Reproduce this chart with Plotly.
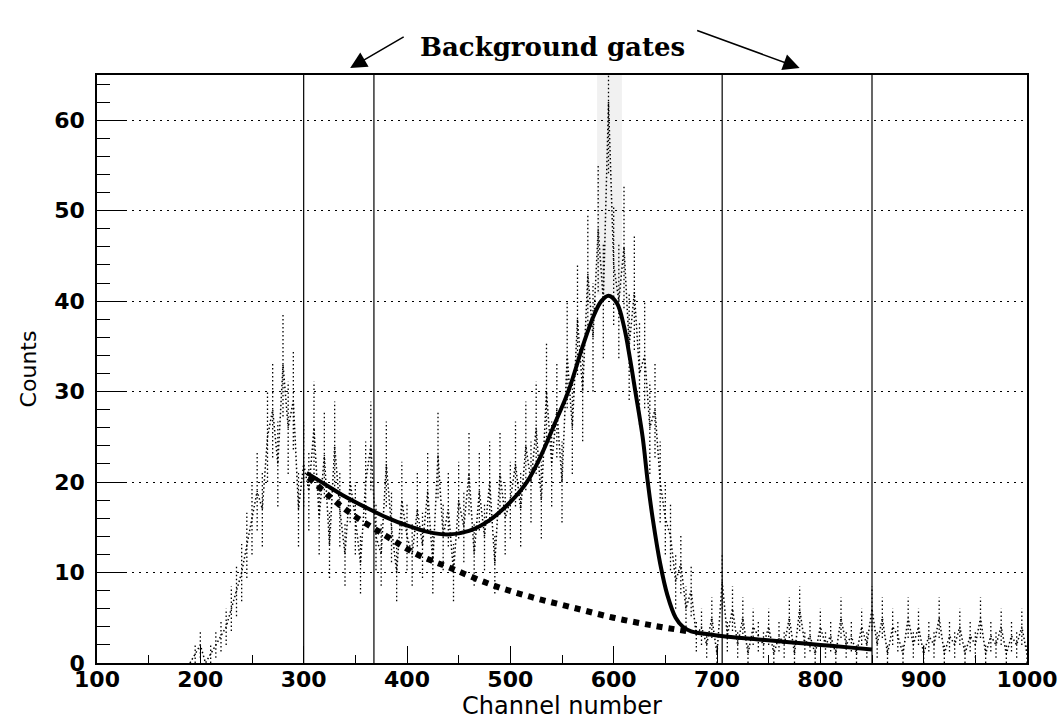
import plotly.graph_objects as go

# ---- data ----
hist_x = list(range(190, 1001, 5))
hist_y = [0, 1, 2, 0, 1, 2, 3, 4, 6, 8,
          10, 13, 16, 19, 17, 25, 28, 22, 33, 26,
          29, 17, 22, 19, 26, 16, 23, 13, 24, 17,
          12, 20, 16, 11, 20, 24, 14, 12, 22, 15,
          10, 18, 14, 12, 17, 13, 19, 11, 23, 14,
          17, 10, 18, 15, 21, 12, 19, 14, 20, 11,
          21, 16, 18, 22, 17, 24, 20, 26, 18, 30,
          22, 28, 20, 34, 26, 38, 30, 43, 36, 48,
          40, 62, 44, 40, 46, 35, 41, 32, 34, 26,
          28, 20, 16, 14, 9, 11, 6, 8, 3, 4,
          2, 5, 1, 9, 3, 6, 2, 5, 1, 4,
          3, 2, 4, 1, 3, 2, 5, 1, 6, 2,
          3, 1, 4, 2, 3, 1, 5, 2, 3, 1,
          4, 2, 6, 2, 5, 1, 4, 3, 1, 5,
          2, 4, 1, 3, 2, 5, 1, 3, 2, 4,
          1, 3, 2, 5, 1, 3, 2, 4, 1, 3,
          2, 4, 1]

fit_x = [303, 320, 340, 360, 380, 400, 420, 440, 460, 480, 500, 516, 530, 542,
         556, 570, 580, 588, 595, 603, 610, 616, 621, 628, 633, 638, 645, 652, 660, 667,
         675, 690, 710, 740, 770, 800, 830, 850]
fit_y = [21.0, 19.8, 18.4, 17.2, 16.1, 15.2, 14.5, 14.2, 14.6, 15.8, 17.8, 20.0,
         23.0, 26.2, 30.0, 35.0, 38.2, 40.0, 40.6, 39.8, 37.2, 33.5, 30.0, 25.0, 20.0, 15.8,
         11.0, 7.5, 5.0, 4.0, 3.5, 3.2, 2.9, 2.6, 2.3, 2.0, 1.7, 1.5]

bg_x = [305, 340, 379, 410, 442, 483, 520, 558, 600, 640, 672]
bg_y = [20.5, 17.0, 14.1, 12.0, 10.5, 8.6, 7.3, 6.2, 5.0, 4.1, 3.5]

gate_x = [300, 368, 705, 850]

# statistical error bars (sqrt N) drawn as dotted vertical segments
err_x, err_y = [], []
for xv, yv in zip(hist_x, hist_y):
    e = yv ** 0.5
    err_x += [xv, xv, None]
    err_y += [max(yv - e, 0), yv + e, None]

fig = go.Figure()

fig.add_trace(go.Scatter(x=err_x, y=err_y, mode="lines",
                         line=dict(color="black", width=1.3, dash="1.5px,2.5px"),
                         showlegend=False, hoverinfo="skip"))
fig.add_trace(go.Scatter(x=hist_x, y=hist_y, mode="lines",
                         line=dict(color="black", width=1.5, dash="1.5px,2.5px"),
                         showlegend=False))
fig.add_trace(go.Scatter(x=bg_x, y=bg_y, mode="lines", line_shape="spline",
                         line=dict(color="black", width=6, dash="6px,6px"),
                         showlegend=False))
fig.add_trace(go.Scatter(x=fit_x, y=fit_y, mode="lines", line_shape="spline",
                         line=dict(color="black", width=4),
                         showlegend=False))

# faint scan shading near the peak
fig.add_shape(type="rect", xref="x", yref="y", x0=584, x1=608, y0=40.7, y1=65,
              fillcolor="#f1f1f1", line=dict(width=0), layer="below")

for gx in gate_x:
    fig.add_shape(type="line", xref="x", yref="paper", x0=gx, x1=gx, y0=0, y1=1,
                  line=dict(color="black", width=1.2))

fig.add_annotation(text="<b>Background gates</b>", xref="paper", yref="paper",
                   x=0.49, y=1.077, showarrow=False,
                   font=dict(family="DejaVu Serif", size=26, color="black"))
fig.add_annotation(text="", xref="x", yref="paper", x=345, y=1.012,
                   ax=55, ay=-32, showarrow=True, arrowhead=2, arrowsize=2.2,
                   arrowwidth=1.5, arrowcolor="black")
fig.add_annotation(text="", xref="x", yref="paper", x=780, y=1.012,
                   ax=-104, ay=-38, showarrow=True, arrowhead=2, arrowsize=2.2,
                   arrowwidth=1.5, arrowcolor="black")

fig.update_layout(
    width=1064, height=722,
    margin=dict(l=97, r=37, t=75, b=59),
    paper_bgcolor="white", plot_bgcolor="white",
    font=dict(family="DejaVu Sans", color="black"),
)
fig.update_xaxes(range=[100, 1000], dtick=100, tick0=100,
                 showline=True, linecolor="black", linewidth=1.5, mirror=True,
                 ticks="inside", ticklen=17, tickwidth=1.2, tickcolor="black",
                 minor=dict(dtick=50, ticks="inside", ticklen=8, tickcolor="black"),
                 showgrid=False, zeroline=False, automargin=False,
                 ticklabelstandoff=-4,
                 tickfont=dict(family="DejaVu Sans", size=22, weight="bold"),
                 title=dict(text="Channel number", standoff=0,
                            font=dict(family="DejaVu Sans", size=24)))
fig.update_yaxes(range=[0, 65], dtick=10, tick0=0,
                 showline=True, linecolor="black", linewidth=1.5, mirror=True,
                 ticks="inside", ticklen=30, tickwidth=1.2, tickcolor="black",
                 minor=dict(dtick=2, ticks="inside", ticklen=13, tickcolor="black",
                            showgrid=False),
                 showgrid=True, gridcolor="black", griddash="2px,5px", gridwidth=1,
                 zeroline=False, automargin=False, ticklabelstandoff=6,
                 tickfont=dict(family="DejaVu Sans", size=22, weight="bold"),
                 title=dict(text="Counts", standoff=12,
                            font=dict(family="DejaVu Sans", size=22)))

fig.write_html("out.html", config={"displayModeBar": False},
               post_script="document.body.style.margin='0';"
                           "document.body.style.overflow='hidden';")
